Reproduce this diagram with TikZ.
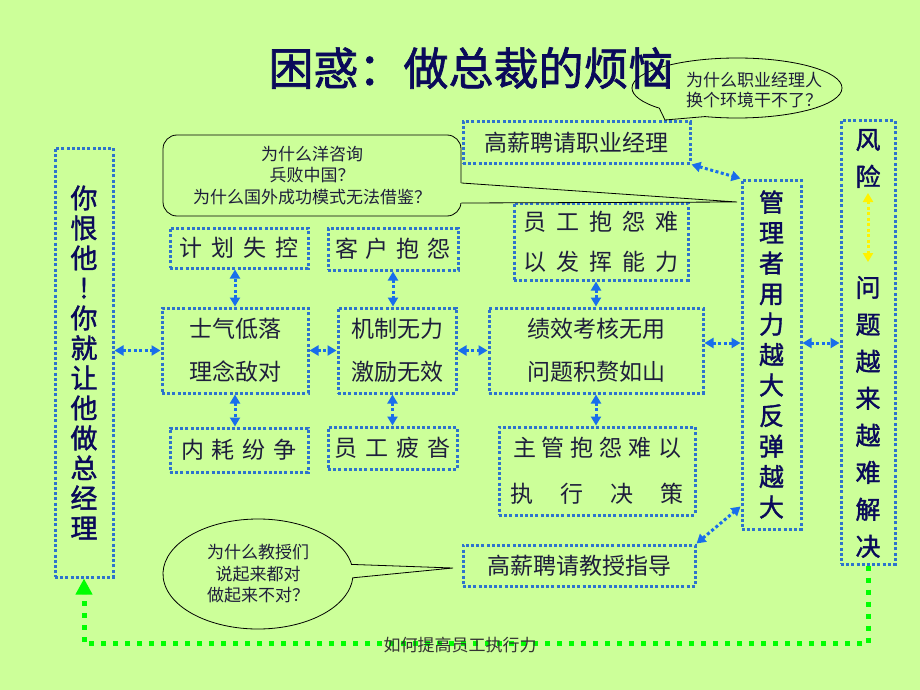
\documentclass[tikz,border=0pt]{standalone}
\usepackage{fontspec}
\usetikzlibrary{arrows.meta,shapes.callouts,calc}
\newfontfamily\cjk{Noto Sans CJK SC}
\newfontfamily\cjkb[FakeBold=1.5]{Noto Sans CJK SC}
\definecolor{paper}{RGB}{204,255,153}
\definecolor{boxblue}{RGB}{45,115,205}
\definecolor{linkblue}{RGB}{25,110,235}
\definecolor{ink}{RGB}{30,30,60}
\definecolor{navy}{RGB}{10,10,90}
\definecolor{flowgreen}{RGB}{0,255,0}
\makeatletter
\newcommand\trk[2]{\@tfor\trk@c:=#2\do{\trk@c\hspace{#1}}\unskip}
\makeatother

\begin{document}
\begin{tikzpicture}[x=1pt, y=-1pt,
  box/.style={draw=boxblue, line width=3pt, dash pattern=on 3pt off 2.2pt, text=ink, inner sep=0pt, align=center, font=\cjk\fontsize{23}{43}\selectfont},
  vbox/.style={box, text=navy},
  link/.style={draw=linkblue, line width=3pt, dash pattern=on 3pt off 2.5pt, {Triangle[length=9pt,width=10pt]}-{Triangle[length=9pt,width=10pt]}},
  say/.style={draw=black, line width=0.8pt, fill=paper, text=ink, align=center, inner sep=0pt, font=\cjk\fontsize{17}{21.5}\selectfont}]
\path[use as bounding box, fill=paper] (0,0) rectangle (920,690);
% boxes
\node[box, minimum width=227pt, minimum height=41pt] (hire) at (576.5,142.5) {高薪聘请职业经理};
\node[box, minimum width=138pt, minimum height=40pt] (plan) at (239,248) {\trk{9pt}{计划失控}};
\node[box, minimum width=130pt, minimum height=42pt] (client) at (393,249) {\trk{8pt}{客户抱怨}};
\node[box, minimum width=174pt, minimum height=77pt, font=\cjk\fontsize{23}{40}\selectfont] (staff) at (601,241.5) {\trk{10pt}{员工抱怨难}\\\trk{10pt}{以发挥能力}};
\node[box, minimum width=146pt, minimum height=85pt] (morale) at (235,350.5) {士气低落\\理念敌对};
\node[box, minimum width=118pt, minimum height=85pt] (mech) at (397,350.5) {机制无力\\激励无效};
\node[box, minimum width=214pt, minimum height=85pt] (kpi) at (596,350.5) {绩效考核无用\\问题积赘如山};
\node[box, minimum width=138pt, minimum height=44pt] (strife) at (239,450) {\trk{8pt}{内耗纷争}};
\node[box, minimum width=129pt, minimum height=42pt] (tired) at (392.5,448) {\trk{8pt}{员工疲沓}};
\node[box, minimum width=196pt, minimum height=88pt, font=\cjk\fontsize{23}{46}\selectfont] (boss) at (597,471) {\trk{6pt}{主管抱怨难以}\\\trk{27pt}{执行决策}};
\node[box, minimum width=232pt, minimum height=41pt] (coach) at (579,565.5) {高薪聘请教授指导};
% vertical boxes
\node[vbox, minimum width=58pt, minimum height=429pt, font=\cjkb\fontsize{27}{30}\selectfont] (hate) at (84,362.5) {你\\恨\\他\\!\\你\\就\\让\\他\\做\\总\\经\\理};
\node[vbox, minimum width=59pt, minimum height=349pt, font=\cjkb\fontsize{25}{30.5}\selectfont] (push) at (771.5,354.5) {管\\理\\者\\用\\力\\越\\大\\反\\弹\\越\\大};
\node[vbox, minimum width=54pt, minimum height=443pt] (risk) at (868,342.5) {};
\node[text=navy, align=center, inner sep=0pt, font=\cjkb\fontsize{25}{37}\selectfont] (riskA) at (868,158.5) {风\\险};
\node[text=navy, align=center, inner sep=0pt, font=\cjkb\fontsize{25}{37}\selectfont] (riskB) at (868,417) {问\\题\\越\\来\\越\\难\\解\\决};
\coordinate (riskmidA) at (868,193); \coordinate (riskmidB) at (868,262);
\draw[link, draw=yellow, {Triangle[length=9pt,width=10pt,fill=yellow]}-{Triangle[length=9pt,width=10pt,fill=yellow]}] (riskmidA) -- (riskmidB);
% links
\draw[link] (morale.north) -- (morale.north |- plan.south);
\draw[link] (client.south) -- (client.south |- mech.north);
\draw[link] (kpi.north) -- (kpi.north |- staff.south);
\draw[link] (morale.south) -- (morale.south |- strife.north);
\draw[link] (tired.north |- mech.south) -- (tired.north);
\draw[link] (kpi.south) -- (kpi.south |- boss.north);
\draw[link] (morale.west -| hate.east) -- (morale.west);
\draw[link] (morale.east) -- (mech.west);
\draw[link] (mech.east) -- (kpi.west);
\coordinate (pushin) at ($(push.west)+(0,-11.5)$);
\draw[link] (pushin -| kpi.east) -- (pushin);
\draw[link] (pushin -| push.east) -- (pushin -| risk.west);
\draw[link] (hire.south east) -- (push.north west);
\draw[link] (coach.north east) -- ($(push.south west)+(0,-24)$);
% callouts
\node[say, rounded corners=14pt, minimum width=298pt, minimum height=81pt] (qforeign) at (312,175.5) {为什么洋咨询\\兵败中国？\\为什么国外成功模式无法借鉴？};
\coordinate (qtip) at (737,202);
\fill[paper] ($(qforeign.east)+(-1.5,7.5)$) -- (qtip) -- ($(qforeign.east)+(-1.5,27.5)$) -- cycle;
\draw[line width=0.8pt] ($(qforeign.east)+(0,7.5)$) -- (qtip) -- ($(qforeign.east)+(0,27.5)$);
\node[say, ellipse callout, minimum width=210pt, minimum height=60pt, callout absolute pointer={(665,120)}, callout pointer arc=30] (qmove) at (737,88) {};
\node[text=ink, align=left, inner sep=0pt, font=\cjk\fontsize{17}{20}\selectfont] (qmovetxt) at (754,90) {为什么职业经理人\\换个环境干不了？};
\node[say, ellipse callout, minimum width=190pt, minimum height=110pt, callout absolute pointer={(453,568)}, callout pointer arc=14] (qprof) at (258,574) {为什么教授们\\说起来都对\\做起来不对？};
% title
\node[text=navy, inner sep=0pt, font=\cjkb\fontsize{45}{50}\selectfont] (title) at (471,68) {困惑：做总裁的烦恼};
% loop back
\draw[flowgreen, line width=5pt, dash pattern=on 5pt off 7pt, -{Triangle[length=16pt,width=16pt]}] (risk.south) -- ++(0,78) -| (hate.south);
\node[text=black!80, inner sep=0pt, font=\cjk\fontsize{17}{20}\selectfont] (footer) at (460,645) {如何提高员工执行力};
\end{tikzpicture}
\end{document}
